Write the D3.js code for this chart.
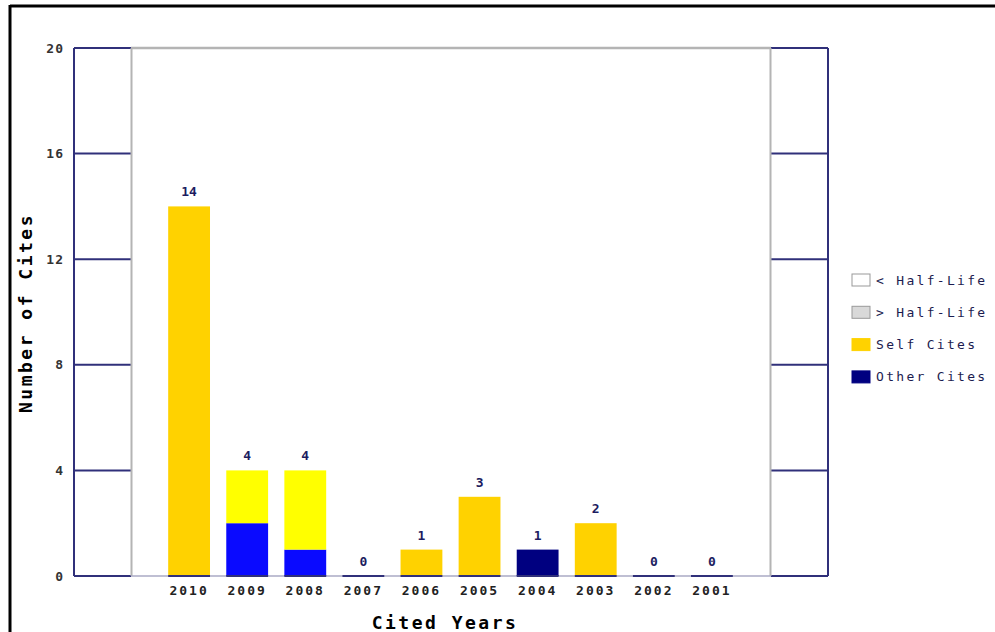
<!doctype html>
<html>
	<head>
		<title>Cited Years</title>
		<meta charset="utf-8" />
		<script src="https://cdn.jsdelivr.net/npm/d3@7"></script>
		<style>
			body { margin: 0; background: #fff; }
			text { font-family: "DejaVu Sans Mono", monospace; }
		</style>
	</head>
	<body>
		<section id="chart"></section>
		<script>

			// chart values
			var years = ['2010', '2009', '2008', '2007', '2006', '2005', '2004', '2003', '2002', '2001'];
			var selfCites = [14, 2, 3, 0, 1, 3, 0, 2, 0, 0];
			var otherCites = [0, 2, 1, 0, 0, 0, 1, 0, 0, 0];
			// years drawn in the brighter colours
			var brightYears = ['2009', '2008'];
			var yTicks = [0, 4, 8, 12, 16, 20];
			var legendLabels = ['< Half-Life', '> Half-Life', 'Self Cites', 'Other Cites'];
			var legendColors = ['#ffffff', '#d9d9d9', '#ffd200', '#000080'];

			var navy = '#30307a';
			var gray = '#b4b4b4';

			var svg = d3.select('#chart')
				.append('svg')
					.attr('width', 995)
					.attr('height', 632)
					.style('display', 'block')
					.style('background', '#fff');

			// frame
			svg.append('line').attr('x1', 10).attr('x2', 995).attr('y1', 6).attr('y2', 6)
				.style('stroke', '#000').style('stroke-width', 3);
			svg.append('line').attr('x1', 10).attr('x2', 10).attr('y1', 5).attr('y2', 632)
				.style('stroke', '#000').style('stroke-width', 3);

			var x = d3.scaleBand()
				.domain(years)
				.range([131, 770])
				.paddingInner(0.28)
				.paddingOuter(0.64);

			var y = d3.scaleLinear()
				.domain([0, 20])
				.range([576, 48]);

			// side walls with tick lines
			var walls = [[74, 131], [771, 828]];
			walls.forEach(function (w) {
				svg.selectAll(null)
					.data(yTicks)
					.enter().append('line')
						.attr('x1', w[0]).attr('x2', w[1])
						.attr('y1', function (d) { return y(d); })
						.attr('y2', function (d) { return y(d); })
						.style('stroke', navy).style('stroke-width', 2);
			});
			svg.append('line').attr('x1', 74).attr('x2', 74).attr('y1', y(20)).attr('y2', y(0))
				.style('stroke', navy).style('stroke-width', 2);
			svg.append('line').attr('x1', 828).attr('x2', 828).attr('y1', y(20)).attr('y2', y(0))
				.style('stroke', navy).style('stroke-width', 2);
			svg.append('line').attr('x1', 131.5).attr('x2', 131.5).attr('y1', y(20)).attr('y2', y(0))
				.style('stroke', gray).style('stroke-width', 2);
			svg.append('line').attr('x1', 770.5).attr('x2', 770.5).attr('y1', y(20)).attr('y2', y(0))
				.style('stroke', gray).style('stroke-width', 2);
			svg.append('line').attr('x1', 131).attr('x2', 771).attr('y1', y(20)).attr('y2', y(20))
				.style('stroke', gray).style('stroke-width', 2.5);
			svg.append('line').attr('x1', 131).attr('x2', 771).attr('y1', y(0)).attr('y2', y(0))
				.style('stroke', '#aaaac4').style('stroke-width', 1.5);

			// y axis labels
			svg.append('g')
				.attr('transform', 'translate(74,0)')
				.call(d3.axisLeft(y).tickValues(yTicks).tickSize(0).tickPadding(10))
				.call(function (g) { g.select('.domain').remove(); })
				.selectAll('text')
					.style('font-family', '"DejaVu Sans Mono", monospace')
					.style('font-size', '13px')
					.style('font-weight', 'bold')
					.style('fill', '#333')
					.style('letter-spacing', '1px');

			// x axis labels
			svg.append('g')
				.attr('transform', 'translate(0,576)')
				.call(d3.axisBottom(x).tickSize(0).tickPadding(10))
				.call(function (g) { g.select('.domain').remove(); })
				.selectAll('text')
					.style('font-family', '"DejaVu Sans Mono", monospace')
					.style('font-size', '13px')
					.style('font-weight', 'bold')
					.style('fill', '#222')
					.style('letter-spacing', '2px');

			var rows = years.map(function (yr, i) {
				return { year: yr, other: otherCites[i], self: selfCites[i], total: otherCites[i] + selfCites[i] };
			});

			// other cites at the bottom
			svg.selectAll('.other')
				.data(rows)
				.enter().append('rect')
					.attr('class', 'other')
					.attr('x', function (d) { return x(d.year); })
					.attr('y', function (d) { return y(d.other); })
					.attr('width', x.bandwidth())
					.attr('height', function (d) { return y(0) - y(d.other); })
					.style('fill', function (d) { return brightYears.indexOf(d.year) >= 0 ? '#0a0aff' : '#000080'; });

			// self cites on top
			svg.selectAll('.self')
				.data(rows)
				.enter().append('rect')
					.attr('class', 'self')
					.attr('x', function (d) { return x(d.year); })
					.attr('y', function (d) { return y(d.total); })
					.attr('width', x.bandwidth())
					.attr('height', function (d) { return y(d.other) - y(d.total); })
					.style('fill', function (d) { return brightYears.indexOf(d.year) >= 0 ? '#ffff00' : '#ffd200'; });

			// dark foot under each bar
			svg.selectAll('.foot')
				.data(rows)
				.enter().append('rect')
					.attr('class', 'foot')
					.attr('x', function (d) { return x(d.year); })
					.attr('y', y(0) - 1)
					.attr('width', x.bandwidth())
					.attr('height', 2)
					.style('fill', navy);

			// value labels
			svg.selectAll('.val')
				.data(rows)
				.enter().append('text')
					.attr('class', 'val')
					.attr('x', function (d) { return x(d.year) + x.bandwidth() / 2; })
					.attr('y', function (d) { return y(d.total) - 10; })
					.attr('text-anchor', 'middle')
					.style('font-size', '13px')
					.style('font-weight', 'bold')
					.style('fill', '#1c1c60')
					.text(function (d) { return d.total; });

			// axis titles
			svg.append('text')
				.attr('x', 445)
				.attr('y', 629)
				.attr('text-anchor', 'middle')
				.style('font-size', '18px')
				.style('font-weight', 'bold')
				.style('letter-spacing', '2.5px')
				.style('fill', '#000')
				.text('Cited Years');

			svg.append('text')
				.attr('transform', 'translate(32,313) rotate(-90)')
				.attr('text-anchor', 'middle')
				.style('font-size', '18px')
				.style('font-weight', 'bold')
				.style('letter-spacing', '2.5px')
				.style('fill', '#000')
				.text('Number of Cites');

			// legend
			var legend = svg.selectAll('.leg')
				.data(legendLabels)
				.enter().append('g')
					.attr('class', 'leg')
					.attr('transform', function (d, i) { return 'translate(852,' + (274 + i * 32.3) + ')'; });
			legend.append('rect')
				.attr('width', 18).attr('height', 12)
				.style('fill', function (d, i) { return legendColors[i]; })
				.style('stroke', function (d, i) { return i < 2 ? '#999' : legendColors[i]; })
				.style('stroke-width', 1);
			legend.append('text')
				.attr('x', 24)
				.attr('y', 10.5)
				.style('font-size', '13px')
				.style('letter-spacing', '2.3px')
				.style('fill', '#1c1c50')
				.text(function (d) { return d; });

		</script>
	</body>
</html>
